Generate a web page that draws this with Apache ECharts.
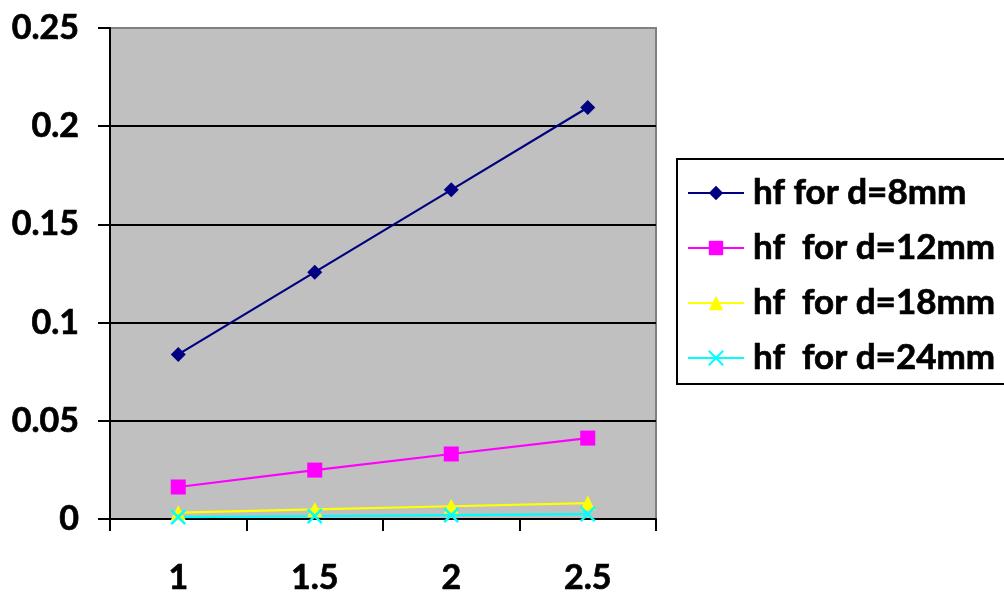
<!DOCTYPE html>
<html><head><meta charset="utf-8">
<script src="https://cdn.jsdelivr.net/npm/echarts@6/dist/echarts.min.js"></script>
<style>html,body{margin:0;padding:0;background:#fff}#c{width:1004px;height:594px}</style>
</head><body><div id="c"></div>
<script>
const categories = ['1', '1.5', '2', '2.5'];
const seriesNames = ['hf for d=8mm', 'hf  for d=12mm', 'hf  for d=18mm', 'hf  for d=24mm'];
const hf8 = [0.0838, 0.1257, 0.1676, 0.2095];
const hf12 = [0.0163, 0.0249, 0.0331, 0.0412];
const hf18 = [0.0032, 0.0049, 0.0065, 0.0081];
const hf24 = [0.0010, 0.0015, 0.0020, 0.0025];

const FONT = 'Lato';
const chart = echarts.init(document.getElementById('c'), null, {renderer: 'canvas'});
function mk(name, data, color, symbol, size, extra) {
  return Object.assign({
    name: name, type: 'line', data: data, symbol: symbol, symbolSize: size,
    lineStyle: {color: color, width: 2.2},
    itemStyle: {color: color},
    animation: false
  }, extra || {});
}
const labelStyle = {color: '#000', fontFamily: FONT, fontWeight: 'bold', fontSize: 34,
                    textBorderColor: '#000', textBorderWidth: 0.7};
chart.setOption({
  animation: false,
  backgroundColor: '#fff',
  grid: {left: 110, right: 348, top: 28, bottom: 75, show: true, outerBoundsMode: 'none', containLabel: false,
         backgroundColor: '#C0C0C0', borderColor: '#808080', borderWidth: 2},
  xAxis: {
    type: 'category', data: categories, boundaryGap: true,
    axisLine: {lineStyle: {color: '#000', width: 2}},
    axisTick: {show: true, length: 12, lineStyle: {color: '#000', width: 2}},
    axisLabel: Object.assign({margin: 42}, labelStyle)
  },
  yAxis: {
    type: 'value', min: 0, max: 0.25, interval: 0.05,
    axisLine: {show: true, lineStyle: {color: '#000', width: 2}},
    axisTick: {show: true, length: 12, lineStyle: {color: '#000', width: 2}},
    splitLine: {show: true, lineStyle: {color: ['#000','#000','#000','#000','#000','#808080'], width: 2}},
    axisLabel: Object.assign({margin: 31}, labelStyle)
  },
  legend: {
    orient: 'vertical', left: 677, top: 159,
    borderColor: '#000', borderWidth: 2, padding: [14, 30, 6, 10],
    itemWidth: 56, itemHeight: 18, itemGap: 15,
    textStyle: {color: '#000', fontFamily: FONT, fontWeight: 'bold', fontSize: 35, lineHeight: 40,
                padding: [0, 0, 0, 4], textBorderColor: '#000', textBorderWidth: 0.7},
    data: seriesNames
  },
  series: [
    mk(seriesNames[0], hf8, '#000080', 'diamond', 15),
    mk(seriesNames[1], hf12, '#FF00FF', 'rect', 15),
    mk(seriesNames[2], hf18, '#FFFF00', 'triangle', 15),
    mk(seriesNames[3], hf24, '#00FFFF', 'path://M0,0L10,10M10,0L0,10', 14,
       {itemStyle: {color: '#00FFFF', borderColor: '#00FFFF', borderWidth: 2.5}})
  ]
});
</script></body></html>
